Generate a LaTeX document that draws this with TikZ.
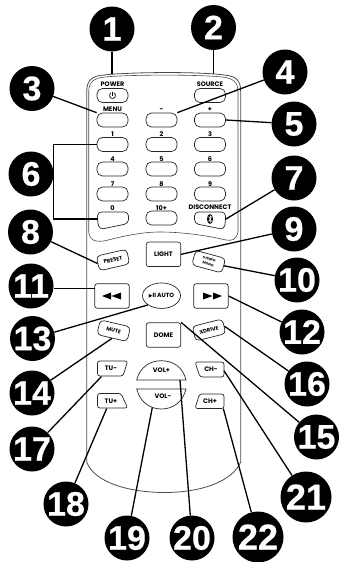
\documentclass[tikz,border=0pt]{standalone}
\usepackage{fontspec}
\usetikzlibrary{shapes.geometric}
\newfontfamily\numfont[FakeBold=0.6]{Liberation Sans Bold}
\newfontfamily\keyfont{Poppins Bold}
\newfontfamily\symfont{DejaVu Sans}
\begin{document}
\begin{tikzpicture}[x=1pt,y=-1pt,
  callout/.style={circle,fill=black,text=white,inner sep=0pt,minimum size=45pt,font=\numfont\fontsize{34}{34}\selectfont},
  bigcallout/.style={callout,minimum size=51pt,font=\numfont\fontsize{36}{36}\selectfont},
  keybox/.style={draw=black!85,line width=0.7pt,rounded corners=5.5pt,minimum width=31pt,minimum height=14pt,inner sep=0pt,font=\keyfont\fontsize{6.5}{6.5}\selectfont},
  squarebox/.style={keybox,rounded corners=2.5pt,minimum width=34.5pt,minimum height=24.5pt},
  tiltbox/.style={keybox,minimum height=15pt,rounded corners=4pt,font=\keyfont\fontsize{5.3}{5.3}\selectfont},
  keyline/.style={draw=black!85,line width=0.7pt},
  keytext/.style={inner sep=0pt,font=\keyfont\fontsize{6.5}{6.5}\selectfont},
  lead/.style={draw=black,line width=1.3pt}]
  \useasboundingbox (0,0) rectangle (340,562);
  \draw[draw=black!70,line width=0.8pt] (86.7,462) -- (86.7,92) .. controls (86.7,80) and (92,76) .. (104,75) .. controls (130,72) and (200,71.5) .. (224,75) .. controls (236,76) and (240.7,80) .. (240.7,92) -- (240.7,462) .. controls (232,482) and (200,492.5) .. (165,492.5) .. controls (128,492.5) and (94,482) .. (86.7,462);
  \draw[draw=black!70,line width=0.6pt] (88.7,92) .. controls (88.7,82) and (94,78) .. (105,77) .. controls (130,74.5) and (200,74.5) .. (222,77) .. controls (233,78) and (238,82) .. (238,92) -- (238,232) .. controls (236,240) and (232,241) .. (226,240) .. controls (205,235) and (180,232) .. (160,232) .. controls (140,232) and (120,237) .. (104,241) .. controls (94,242) and (90,240) .. (88.7,232) -- cycle;
  \coordinate (powerend) at (112,74);
  \coordinate (sourceend) at (213.5,74);

  \node[keytext] (powertxt) at (112.5,84) {POWER};
  \node[keytext] (sourcetxt) at (210,84) {SOURCE};
  \node[keytext] (menutxt) at (112.5,109.5) {MENU};
  \node[keytext] (minustxt) at (161.5,110) {-};
  \node[keytext] (plustxt) at (210,110) {+};
  \node[keytext] (onetxt) at (112.5,134) {1};
  \node[keytext] (twotxt) at (161.5,134) {2};
  \node[keytext] (threetxt) at (210,134) {3};
  \node[keytext] (fourtxt) at (112.5,159) {4};
  \node[keytext] (fivetxt) at (161.5,159) {5};
  \node[keytext] (sixtxt) at (210,159) {6};
  \node[keytext] (seventxt) at (112.5,184) {7};
  \node[keytext] (eighttxt) at (161.5,184) {8};
  \node[keytext] (ninetxt) at (210,184) {9};
  \node[keytext] (zerotxt) at (112.5,208) {0};
  \node[keytext] (tentxt) at (161.5,208) {10+};
  \node[keytext] (disctxt) at (210,207.5) {DISCONNECT};

  \node[keybox] (power) at (112.5,95.5) {};
  \node[keybox] (source) at (210,95.5) {};
  \node[keybox] (menu) at (112.5,120) {};
  \node[keybox] (minus) at (161.5,120) {};
  \node[keybox] (plus) at (210,120) {};
  \node[keybox] (one) at (112.5,144.5) {};
  \node[keybox] (two) at (161.5,144.5) {};
  \node[keybox] (three) at (210,144.5) {};
  \node[keybox] (four) at (112.5,169) {};
  \node[keybox] (five) at (161.5,169) {};
  \node[keybox] (six) at (210,169) {};
  \node[keybox] (seven) at (112.5,194) {};
  \node[keybox] (eight) at (161.5,194) {};
  \node[keybox] (nine) at (210,194) {};
  \node[keybox] (ten) at (161.5,218) {};
  \draw[line width=0.7pt] (114,92.9) arc[start angle=-60,end angle=240,x radius=3,y radius=3];
  \draw[line width=0.7pt] (112.5,91.5) -- (112.5,95.5);

  \draw[keyline,rounded corners=4pt] (97.5,212) -- (128.5,212) -- (128.5,223.5) -- (99.5,229.5) -- (97.5,222) -- cycle;
  \coordinate (zero) at (97.5,219);
  \draw[keyline,rounded corners=4pt] (194.5,212) -- (225.5,212) -- (225.5,222) -- (224,229.5) -- (194.5,223.5) -- cycle;
  \coordinate (disc) at (225.5,219.3);
  \fill (210,219) ellipse (3pt and 5pt);
  \draw[white,line width=0.5pt] (208.5,216.5) -- (211.5,221) -- (210,222.5) -- (210,215.5) -- (211.5,217) -- (208.5,221.5);

  \node[tiltbox,rotate=13] (preset) at (113,260) {PRESET};
  \node[squarebox] (light) at (163.5,254.3) {LIGHT};
  \node[tiltbox,rotate=-15,align=center,font=\keyfont\fontsize{3.5}{5}\selectfont] (stereo) at (208.7,261.7) {STEREO\\MONO};
  \node[squarebox] (rew) at (112,296) {};
  \node[squarebox] (ffwd) at (211,296) {};
  \fill (102,296) -- (111,292.5) -- (111,299.5) -- cycle (111.5,296) -- (121,292.5) -- (121,299.5) -- cycle;
  \fill (222,296) -- (213,292.5) -- (213,299.5) -- cycle (212.5,296) -- (203,292.5) -- (203,299.5) -- cycle;
  \coordinate (rewend) at (94.7,288.3);
  \node[draw=black!85,line width=0.7pt,ellipse,minimum width=38pt,minimum height=25.5pt,inner sep=0pt,font=\keyfont\fontsize{6}{6}\selectfont] (auto) at (161.5,295.7) {{\symfont\fontsize{5}{5}\selectfont ▶}II\,AUTO};
  \node[tiltbox,rotate=-13] (mute) at (113.7,330.7) {MUTE};
  \node[squarebox] (dome) at (163.5,335) {DOME};
  \node[tiltbox,rotate=14] (xdrive) at (209,330) {XDRIVE};

  \draw[keyline,rounded corners=2.5pt] (97.5,361) -- (127.7,361) -- (123,376) -- (97.5,376) -- cycle;
  \draw[keyline,rounded corners=2.5pt] (97.5,393.5) -- (121,393.5) -- (127.7,408) -- (97.5,408) -- cycle;
  \draw[keyline,rounded corners=2.5pt] (195,362) -- (224,362) -- (224,377) -- (200,377) -- cycle;
  \draw[keyline,rounded corners=2.5pt] (199.5,394) -- (224,394) -- (224,408.5) -- (195,408.5) -- cycle;
  \node[keytext] (tuminus) at (111,368.5) {TU-};
  \node[keytext] (tuplus) at (111,401) {TU+};
  \node[keytext] (chminus) at (211,369) {CH-};
  \node[keytext] (chplus) at (210,401.5) {CH+};
  \coordinate (tuminusend) at (101.5,376.5);
  \coordinate (tuplusend) at (106.7,408.5);
  \coordinate (chminusend) at (224,370.7);
  \coordinate (chplusend) at (223.3,408.5);

  \draw[keyline] (136.7,380) .. controls (140,367) and (150,360.7) .. (161.3,360.7) .. controls (173,360.7) and (183,367) .. (186,380) -- cycle;
  \draw[keyline] (136.7,389) .. controls (140,402) and (150,409) .. (161.3,409) .. controls (173,409) and (183,402) .. (186,389) -- cycle;
  \node[keytext] (volplus) at (161.5,370.5) {VOL+};
  \node[keytext] (volminus) at (163,396.5) {VOL-};
  \coordinate (volplusend) at (180,380);
  \coordinate (volminusend) at (152.3,407.5);

  \node[callout] (c1) at (112,29) {1};
  \node[callout] (c2) at (213.5,27.5) {2};
  \node[callout] (c3) at (32,88.5) {3};
  \node[callout] (c4) at (285,72) {4};
  \node[callout] (c5) at (294,124) {5};
  \node[callout] (c6) at (31,174) {6};
  \node[callout] (c7) at (294,178) {7};
  \node[callout] (c8) at (30.5,232) {8};
  \node[callout] (c9) at (294,229) {9};
  \node[callout] (c10) at (297,280) {10};
  \node[callout] (c11) at (31,286) {11};
  \node[callout] (c12) at (302,332) {12};
  \node[callout] (c13) at (32.5,338.5) {13};
  \node[callout] (c14) at (32,393) {14};
  \node[callout] (c15) at (316.5,437) {15};
  \node[callout] (c16) at (307,384) {16};
  \node[callout] (c17) at (32,449) {17};
  \node[callout] (c18) at (66,504) {18};
  \node[callout] (c19) at (127,538) {19};
  \node[callout] (c20) at (192,538) {20};
  \node[bigcallout] (c21) at (306,497) {21};
  \node[bigcallout] (c22) at (258,537) {22};
  \coordinate (bracket) at (53.3,180);

  \draw[lead] (c1) -- (powerend);
  \draw[lead] (c2) -- (sourceend);
  \draw[lead] (c3) -- (menu.north west);
  \draw[lead] (c4) -- (minus.north east);
  \draw[lead] (c5) -- (plus.east);
  \draw[lead] (one.west) -| (bracket) |- (zero);
  \draw[lead] (c7) -- (disc);
  \draw[lead] (c8) -- (preset.west);
  \draw[lead] (c9) -- (light.east);
  \draw[lead] (c10) -- (stereo.east);
  \draw[lead] (c11.east |- rewend) -- (rewend);
  \draw[lead] (c12) -- (ffwd.east);
  \draw[lead] (c13) -- (auto.south west);
  \draw[lead] (c14) -- (mute.south);
  \draw[lead] (c15) -- (dome.north east);
  \draw[lead] (c16) -- (xdrive.east);
  \draw[lead] (c17) -- (tuminusend);
  \draw[lead] (c18) -- (tuplusend);
  \draw[lead] (c19) -- (volminusend);
  \draw[lead] (c20) -- (volplusend);
  \draw[lead] (c21) -- (chminusend);
  \draw[lead] (c22) -- (chplusend);
\end{tikzpicture}
\end{document}
